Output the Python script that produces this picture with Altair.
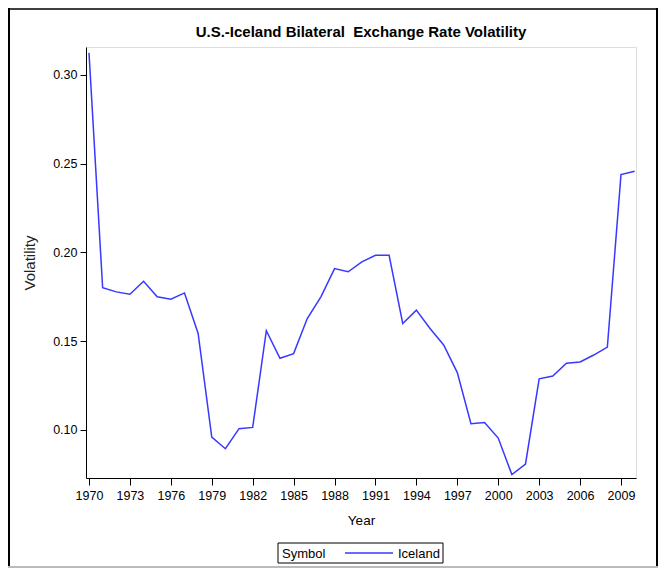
import altair as alt
import pandas as pd

years = list(range(1970, 2011))
volatility = [0.3124, 0.1800, 0.1777, 0.1764, 0.1837, 0.1749, 0.1736, 0.1771, 0.1543, 0.0959,
              0.0893, 0.1006, 0.1013, 0.1558, 0.1403, 0.1429, 0.1627, 0.1749, 0.1908, 0.1890,
              0.1946, 0.1983, 0.1983, 0.1599, 0.1674, 0.1571, 0.1478, 0.1322, 0.1034, 0.1041,
              0.0953, 0.0747, 0.0807, 0.1287, 0.1303, 0.1375, 0.1382, 0.1421, 0.1466, 0.2438,
              0.2457]
x_ticks = list(range(1970, 2010, 3))
y_ticks = [0.10, 0.15, 0.20, 0.25, 0.30]
series_name = "Iceland"
legend_title = "Symbol"
chart_title = "U.S.-Iceland Bilateral\u00a0 Exchange Rate Volatility"

df = pd.DataFrame({"Year": years, "Volatility": volatility})

FONT = "Liberation Sans"
LINE_COLOR = "#3838ff"
W, H = 550, 431

line = alt.Chart(df).mark_line(strokeWidth=1.5, color=LINE_COLOR).encode(
    x=alt.X("Year:Q",
            scale=alt.Scale(domain=[1969.78, 2010.1], nice=False, zero=False),
            axis=alt.Axis(values=x_ticks, format="d", title="Year", grid=False,
                          tickSize=7, labelPadding=4, titlePadding=12,
                          domainColor="black", tickColor="black",
                          labelColor="black", titleColor="black",
                          labelFontSize=12.5, titleFontSize=13.5, titleFontWeight="normal",
                          labelFont=FONT, titleFont=FONT)),
    y=alt.Y("Volatility:Q",
            scale=alt.Scale(domain=[0.0728, 0.3157], nice=False, zero=False),
            axis=alt.Axis(values=y_ticks, format=".2f", title="Volatility", grid=False,
                          tickSize=6, labelPadding=3,
                          titleX=-57, titleY=H / 2, titleAngle=-90,
                          titleAlign="center", titleBaseline="middle",
                          domainColor="black", tickColor="black",
                          labelColor="black", titleColor="#222222",
                          labelFontSize=12.5, titleFontSize=15, titleFontWeight="normal",
                          labelFont=FONT, titleFont=FONT)),
)

one = alt.Data(values=[{"a": 1}])

title = alt.Chart(one).mark_text(font=FONT, fontSize=15, fontWeight="bold", color="black",
                                 align="center", baseline="middle").encode(
    x=alt.value(W / 2), y=alt.value(-15), text=alt.value(chart_title))

# legend (manual)
leg_box = alt.Chart(one).mark_rect(fill="white", stroke="black", strokeWidth=1).encode(
    x=alt.value(192), x2=alt.value(357), y=alt.value(496), y2=alt.value(516))
leg_title = alt.Chart(one).mark_text(font=FONT, fontSize=13, color="black",
                                     align="left", baseline="middle").encode(
    x=alt.value(196), y=alt.value(506.5), text=alt.value(legend_title))
leg_line = alt.Chart(one).mark_rule(color=LINE_COLOR, strokeWidth=1.5).encode(
    x=alt.value(259), x2=alt.value(307), y=alt.value(506))
leg_label = alt.Chart(one).mark_text(font=FONT, fontSize=13, color="black",
                                     align="left", baseline="middle").encode(
    x=alt.value(312), y=alt.value(506.5), text=alt.value(series_name))

frame_left = alt.Chart(one).mark_rule(color="black", strokeWidth=2).encode(
    x=alt.value(-77), y=alt.value(-39), y2=alt.value(521))
frame_top = alt.Chart(one).mark_rule(color="black", strokeWidth=1.5).encode(
    x=alt.value(-77), x2=alt.value(571), y=alt.value(-38))
frame_right = alt.Chart(one).mark_rule(color="black", strokeWidth=2).encode(
    x=alt.value(571), y=alt.value(-39), y2=alt.value(521))
frame_bottom = alt.Chart(one).mark_rule(color="#bbbbbb", strokeWidth=2).encode(
    x=alt.value(-78), x2=alt.value(572), y=alt.value(520))

chart = alt.layer(line, title, leg_box, leg_title, leg_line, leg_label,
                  frame_left, frame_top, frame_right, frame_bottom).properties(
    width=W, height=H,
    padding={"left": 78, "top": 39, "right": 22, "bottom": 90},
    autosize=alt.AutoSizeParams(type="none"),
).configure_view(stroke="#666666", strokeWidth=1.5).configure(background="white")

chart.save("out.html", embed_options={"renderer": "svg", "actions": False})
